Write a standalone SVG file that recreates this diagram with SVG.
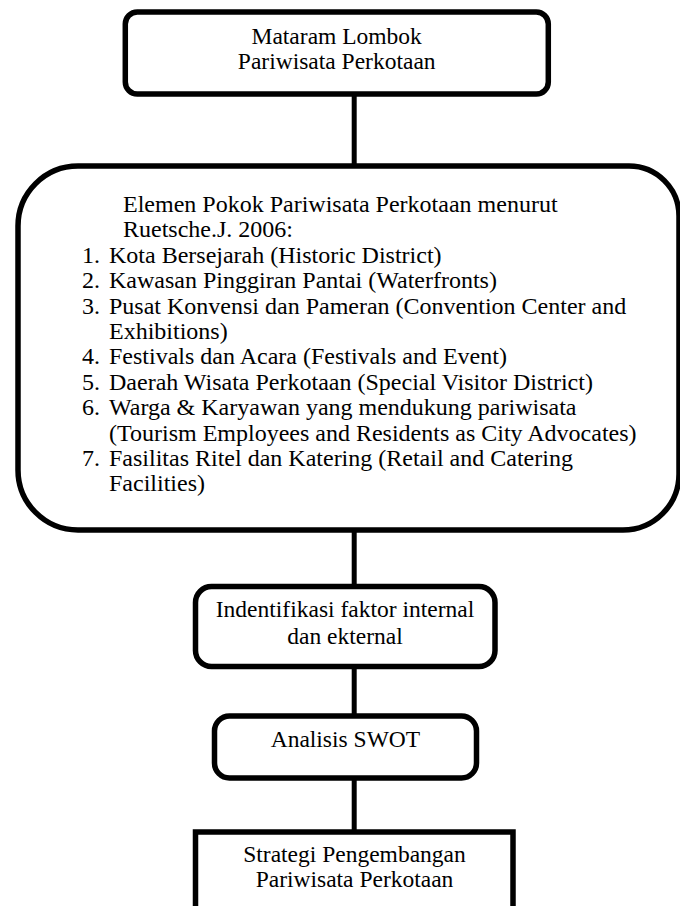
<svg xmlns="http://www.w3.org/2000/svg" width="680" height="906" viewBox="0 0 680 906">
<style>
.box{fill:#fff;stroke:#000;stroke-width:5.5}
.conn{stroke:#000;stroke-width:5;fill:none}
text{font-family:"Liberation Serif","Times New Roman",serif;font-size:23.5px;fill:#000}
.c{text-anchor:middle}
.l{font-size:24px}
</style>
<rect width="680" height="906" fill="#fff"/>
<g id="connectors">
<line class="conn" x1="354.2" y1="96" x2="354.2" y2="166"/>
<line class="conn" x1="354.2" y1="530" x2="354.2" y2="587"/>
<line class="conn" x1="354.2" y1="666" x2="354.2" y2="716"/>
<line class="conn" x1="354.2" y1="778" x2="354.2" y2="832"/>
</g>
<g id="node-mataram">
<rect class="box" x="125.3" y="12" width="423" height="82" rx="12"/>
<text class="c" x="336.7" y="44.3">Mataram Lombok</text>
<text class="c" x="336.7" y="69.3">Pariwisata Perkotaan</text>
</g>
<g id="node-elemen">
<path class="box" d="M78,166 H629 A50,50 0 0 1 679,216 V474 A56,56 0 0 1 623,530 H78 A60,60 0 0 1 18,470 V226 A60,60 0 0 1 78,166 Z"/>
<g class="l">
<text class="l" x="123" y="212">Elemen Pokok Pariwisata Perkotaan menurut</text>
<text class="l" x="123" y="237.4">Ruetsche.J. 2006:</text>
<text class="l" x="82" y="262.8">1.</text><text class="l" x="109" y="262.8">Kota Bersejarah (Historic District)</text>
<text class="l" x="82" y="288.2">2.</text><text class="l" x="109" y="288.2">Kawasan Pinggiran Pantai (Waterfronts)</text>
<text class="l" x="82" y="313.6">3.</text><text class="l" x="109" y="313.6">Pusat Konvensi dan Pameran (Convention Center and</text>
<text class="l" x="109" y="339">Exhibitions)</text>
<text class="l" x="82" y="364.4">4.</text><text class="l" x="109" y="364.4">Festivals dan Acara (Festivals and Event)</text>
<text class="l" x="82" y="389.8">5.</text><text class="l" x="109" y="389.8">Daerah Wisata Perkotaan (Special Visitor District)</text>
<text class="l" x="82" y="415.2">6.</text><text class="l" x="109" y="415.2">Warga &amp; Karyawan yang mendukung pariwisata</text>
<text class="l" x="109" y="440.6">(Tourism Employees and Residents as City Advocates)</text>
<text class="l" x="82" y="466">7.</text><text class="l" x="109" y="466">Fasilitas Ritel dan Katering (Retail and Catering</text>
<text class="l" x="109" y="491.4">Facilities)</text>
</g>
</g>
<g id="node-identifikasi">
<rect class="box" x="195.5" y="586.5" width="299.5" height="80" rx="16"/>
<text class="c" x="345" y="617">Indentifikasi faktor internal</text>
<text class="c" x="345" y="644">dan ekternal</text>
</g>
<g id="node-swot">
<rect class="box" x="214.5" y="716" width="262" height="62" rx="15"/>
<text class="c" x="345.4" y="746.7">Analisis SWOT</text>
</g>
<g id="node-strategi">
<rect class="box" x="195.5" y="832" width="317.5" height="90"/>
<text class="c" x="354.5" y="861.7">Strategi Pengembangan</text>
<text class="c" x="354.5" y="886.7">Pariwisata Perkotaan</text>
</g>
</svg>
